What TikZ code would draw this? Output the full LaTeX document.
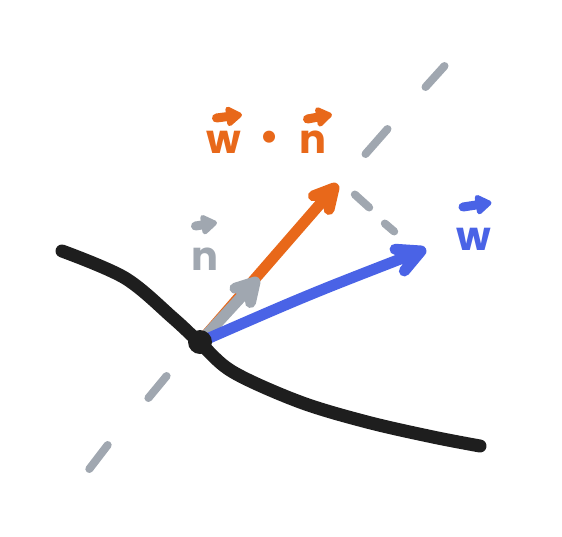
\documentclass[tikz,border=0pt]{standalone}
\usepackage{fontspec}
\newfontfamily\hand{Poppins}
\usetikzlibrary{calc}
\definecolor{cOrange}{HTML}{E8681A}
\definecolor{cBlue}{HTML}{4A63E6}
\definecolor{cGray}{HTML}{A0A7B0}
\definecolor{cBlack}{HTML}{1E1E1E}
\begin{document}
\begin{tikzpicture}[x=1pt,y=-1pt,
  surf/.style={cBlack, line width=13pt, line cap=round, line join=round},
  guide/.style={cGray, line width=8pt, line cap=round},
  vecline/.style={line width=11pt, line cap=round, line join=round},
  lbl/.style={inner sep=0pt, font=\hand\bfseries\fontsize{40}{40}\selectfont},
  accshaft/.style={line width=9pt, line cap=round},
  acchead/.style={line width=5pt, line join=round}
]
\useasboundingbox (0,0) rectangle (562,536);

% surface curve
\draw[surf] plot[smooth, tension=0.55] coordinates {(62,251) (125,278) (173,318) (200,343) (233,372) (300,402) (367,422) (433,437) (480,446)};

% normal guide (dashed)
\draw[guide] (89.3,469) -- (107.7,445);
\draw[guide] (148.4,398) -- (166.6,376);
\draw[guide] (365.5,154) -- (387.5,129);
\draw[guide] (425.5,87) -- (444.5,66);
% projection guide
\draw[guide] (354.8,194.5) -- (369.2,207.5);
\draw[guide] (384.8,223.5) -- (394.2,231.5);

\coordinate (O) at (200,342);
\coordinate (oTip) at (334,188);
\coordinate (gTip) at (255,282);
\coordinate (bTip) at (421,251);
\coordinate (bDir) at ($(bTip)+(-42,18)$);

% orange vector (w.n)
\draw[vecline,cOrange] (O) -- (oTip) ($(oTip)!22pt!28:(O)$) -- (oTip) -- ($(oTip)!22pt!-28:(O)$);
% gray normal
\draw[vecline,cGray] (O) -- (gTip) ($(gTip)!21pt!30:(O)$) -- (gTip) -- ($(gTip)!21pt!-30:(O)$);
% blue w
\draw[vecline,cBlue] (O) .. controls (310,294) .. (bTip) ($(bTip)!26pt!27:(bDir)$) -- (bTip) -- ($(bTip)!26pt!-27:(bDir)$);

% point
\fill[cBlack] (O) circle (12pt);

% labels
\node[lbl, text=cOrange, anchor=base] (ow) at (223.5,153) {w};
\node[lbl, text=cOrange] (odot) at (270,141) {•};
\node[lbl, text=cOrange, anchor=base] (on) at (312.5,153) {n};
\node[lbl, text=cGray, anchor=base] (gn) at (204.5,270) {n};
\node[lbl, text=cBlue, anchor=base] (bw) at (474,250) {w};

% vector accents
\foreach \nd/\col/\sx/\sy/\tx/\ty in {ow/cOrange/-7/-35/16/-38, on/cOrange/-5/-34/17/-38, gn/cGray/-9/-44/10/-47, bw/cBlue/-11/-43/15/-47}{
  \coordinate (\nd S) at ($(\nd.base)+(\sx,\sy)$);
  \coordinate (\nd T) at ($(\nd.base)+(\tx,\ty)$);
  \draw[accshaft,\col] (\nd S) -- ($(\nd T)!10pt!(\nd S)$);
  \filldraw[acchead,\col] (\nd T) -- ($(\nd T)!13pt!34:(\nd S)$) -- ($(\nd T)!13pt!-34:(\nd S)$) -- cycle;
}
\end{tikzpicture}
\end{document}
